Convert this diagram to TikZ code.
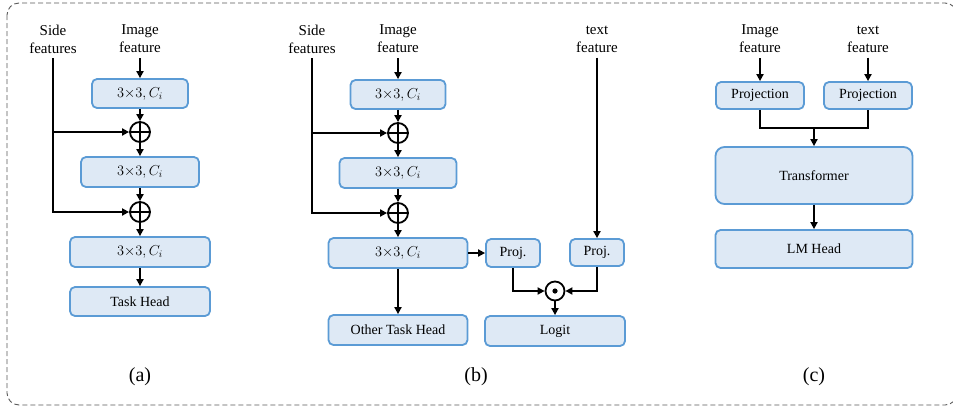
\documentclass[tikz,border=0pt]{standalone}
\usepackage{amsmath,amssymb}
\usepackage{fontspec}
\setmainfont{Liberation Serif}
\usepackage{tikz}
\usetikzlibrary{arrows.meta, positioning, calc}
\usepackage{xcolor}
\definecolor{boxfill}{HTML}{DEE9F5}
\definecolor{boxline}{HTML}{5B9BD5}

\begin{document}
\begin{tikzpicture}[x=1pt, y=-1pt,
  block/.style={rectangle, draw=boxline, fill=boxfill, line width=1.8pt, rounded corners=5pt, inner sep=0pt, font=\fontsize{14}{16}\selectfont},
  label/.style={align=center, inner sep=5pt, font=\fontsize{15}{18}\selectfont},
  caption/.style={font=\fontsize{20}{24}\selectfont},
  oplus/.style={circle, draw, line width=1.8pt, minimum size=20pt, inner sep=0pt,
    path picture={\draw[line width=1.8pt] (path picture bounding box.north) -- (path picture bounding box.south)
      (path picture bounding box.west) -- (path picture bounding box.east);}},
  odot/.style={circle, draw, line width=1.8pt, minimum size=19pt, inner sep=0pt,
    path picture={\fill (path picture bounding box.center) circle (2.6pt);}},
  line/.style={line width=1.8pt},
  arrow/.style={-{Triangle[length=7pt, width=7pt]}, line width=1.8pt}
]
\useasboundingbox (0,0) rectangle (953,408);
\draw[gray!70!black, line width=0.9pt, dash pattern=on 5pt off 3pt, rounded corners=12pt] (7,3) rectangle (957,405);

% (a)
\node[label] (sideA) at (53,39) {Side\\features};
\node[label] (imgA) at (140,39) {Image\\feature};
\node[block, minimum width=96pt, minimum height=29pt] (convA1) at (140,93.5) {$3{\times}3, C_i$};
\node[oplus] (plusA1) at (140,132) {};
\node[block, minimum width=118pt, minimum height=30pt] (convA2) at (140,172) {$3{\times}3, C_i$};
\node[oplus] (plusA2) at (140,212) {};
\node[block, minimum width=140pt, minimum height=30pt] (convA3) at (140,252) {$3{\times}3, C_i$};
\node[block, minimum width=140pt, minimum height=29pt] (headA) at (140,301.5) {Task Head};
\node[caption] (capA) at (140,377) {(a)};

\draw[arrow] (imgA.south) -- (convA1);
\draw[arrow] (convA1) -- (plusA1);
\draw[arrow] (plusA1) -- (convA2);
\draw[arrow] (convA2) -- (plusA2);
\draw[arrow] (plusA2) -- (convA3);
\draw[arrow] (convA3) -- (headA);
\draw[arrow] (sideA.south) |- (plusA2.west);
\draw[arrow] (sideA.south |- plusA1) -- (plusA1.west);

% (b)
\node[label] (sideB) at (312,39) {Side\\features};
\node[label] (imgB) at (398,39) {Image\\feature};
\node[label] (textB) at (597,39) {text\\feature};
\node[block, minimum width=95pt, minimum height=29pt] (convB1) at (398,94.5) {$3{\times}3, C_i$};
\node[oplus] (plusB1) at (398,133) {};
\node[block, minimum width=117pt, minimum height=30pt] (convB2) at (398,173) {$3{\times}3, C_i$};
\node[oplus] (plusB2) at (398,213) {};
\node[block, minimum width=139pt, minimum height=30pt] (convB3) at (398,253) {$3{\times}3, C_i$};
\node[block, minimum width=139pt, minimum height=30pt] (otherB) at (398,330) {Other Task Head};
\node[block, minimum width=54pt, minimum height=28pt] (projB1) at (513,253) {Proj.};
\node[block, minimum width=54pt, minimum height=27pt] (projB2) at (597,252.5) {Proj.};
\node[odot] (dotB) at (555,291) {};
\node[block, minimum width=140pt, minimum height=30pt] (logitB) at (555,331) {Logit};
\node[caption] (capB) at (476,377) {(b)};

\draw[arrow] (imgB.south) -- (convB1);
\draw[arrow] (convB1) -- (plusB1);
\draw[arrow] (plusB1) -- (convB2);
\draw[arrow] (convB2) -- (plusB2);
\draw[arrow] (plusB2) -- (convB3);
\draw[arrow] (sideB.south) |- (plusB2.west);
\draw[arrow] (sideB.south |- plusB1) -- (plusB1.west);
\draw[arrow] (convB3) -- (otherB);
\draw[arrow] (convB3) -- (projB1);
\draw[arrow] (textB.south) -- (projB2);
\draw[arrow] (projB1.south) |- (dotB.west);
\draw[arrow] (projB2.south) |- (dotB.east);
\draw[arrow] (dotB) -- (logitB);

% (c)
\node[label] (imgC) at (760,39) {Image\\feature};
\node[label] (textC) at (868,39) {text\\feature};
\node[block, minimum width=88pt, minimum height=27pt] (projC1) at (760,95.5) {Projection};
\node[block, minimum width=88pt, minimum height=27pt] (projC2) at (868,95.5) {Projection};
\node[block, minimum width=197pt, minimum height=57pt, rounded corners=9pt] (transC) at (814,175.5) {Transformer};
\node[block, minimum width=197pt, minimum height=38pt] (lmC) at (814,249) {LM Head};
\node[caption] (capC) at (814,377) {(c)};
\coordinate (joinC) at (814,128);

\draw[arrow] (imgC.south) -- (projC1);
\draw[arrow] (textC.south) -- (projC2);
\draw[line] (projC1.south) |- (joinC) -| (projC2.south);
\draw[arrow] (joinC) -- (transC);
\draw[arrow] (transC) -- (lmC);
\end{tikzpicture}
\end{document}
